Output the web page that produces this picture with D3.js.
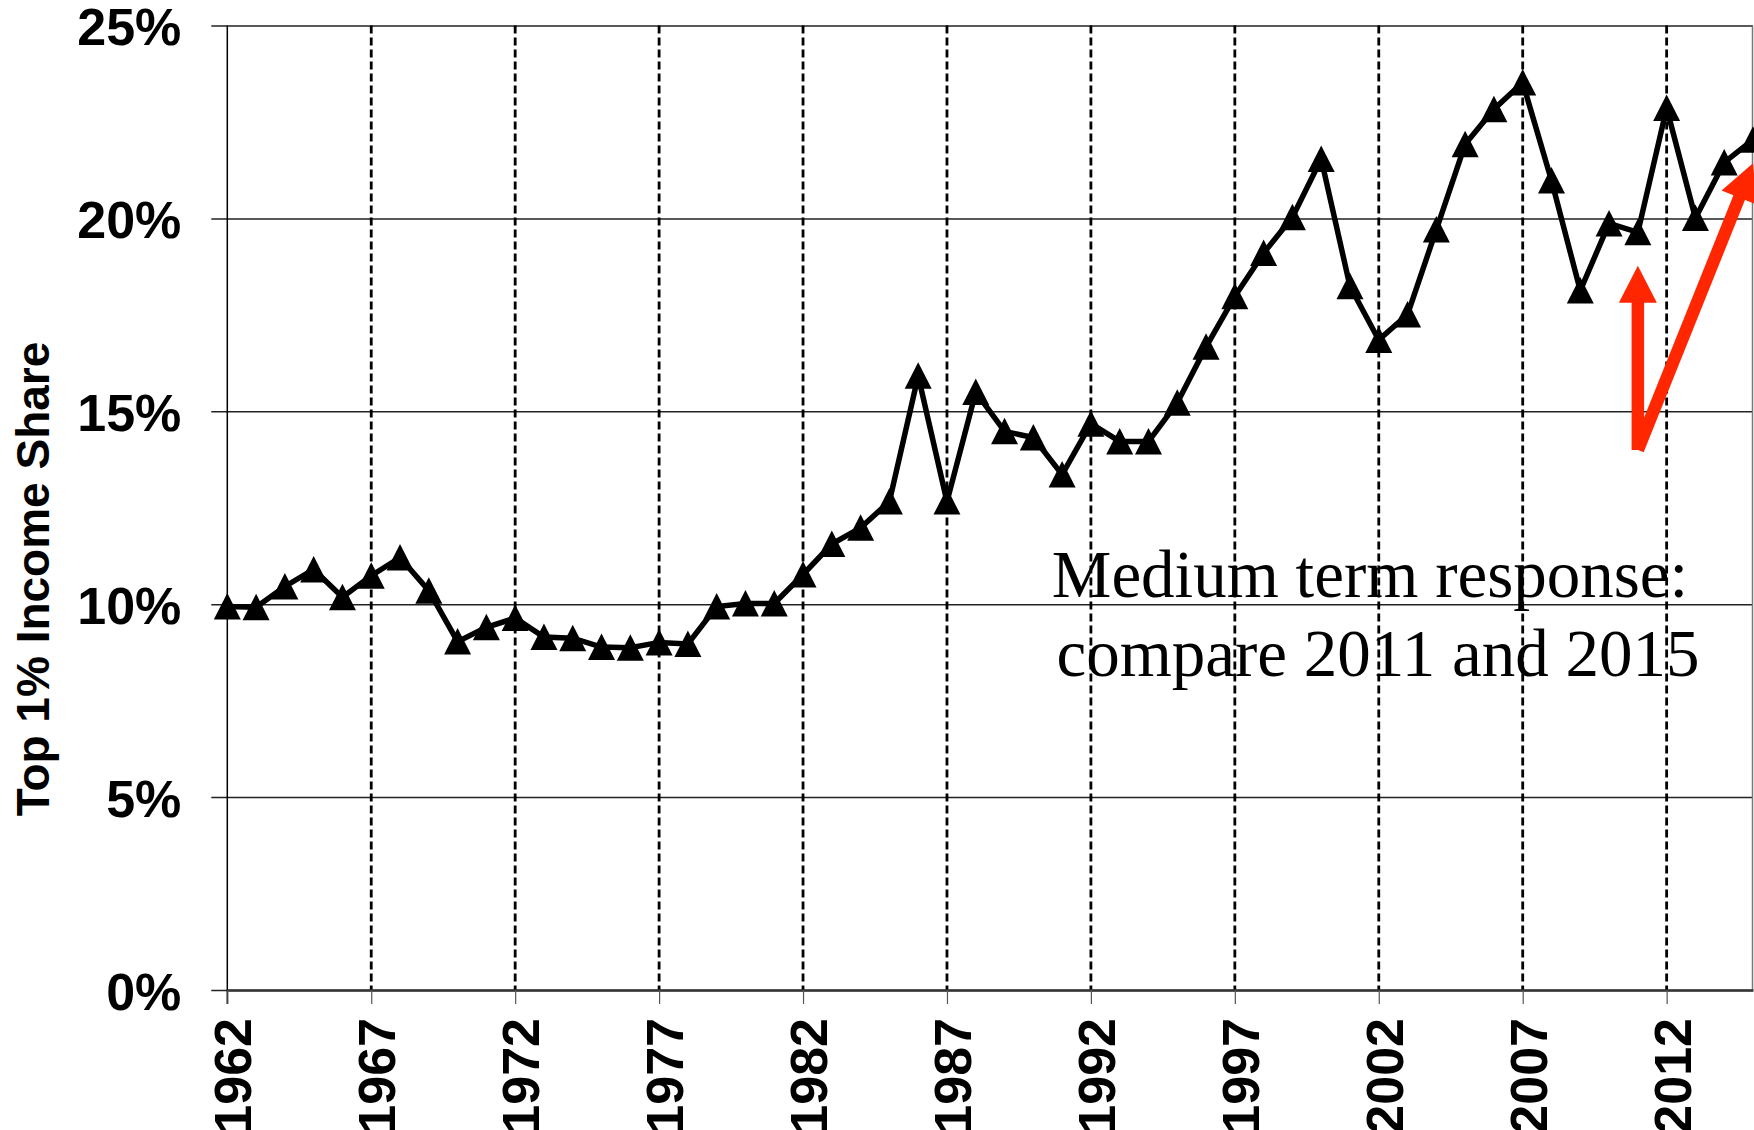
<!DOCTYPE html>
<html>
<head>
<meta charset="utf-8">
<script src="https://cdn.jsdelivr.net/npm/d3@7"></script>
<style>
  body { margin: 0; background: #fff; }
  svg { display: block; }
  .tick-label { font-family: "Liberation Sans", Arial, sans-serif; font-weight: bold; font-size: 52px; fill: #000; }
  .axis-title { font-family: "Liberation Sans", Arial, sans-serif; font-weight: bold; font-size: 46px; fill: #000; }
  .note { font-family: "Liberation Serif", "Times New Roman", serif; font-size: 67px; fill: #000; }
</style>
</head>
<body>
<div id="chart"></div>
<script>
// years on the x axis
const years = [
  1962, 1963, 1964, 1965, 1966, 1967, 1968, 1969, 1970, 1971,
  1972, 1973, 1974, 1975, 1976, 1977, 1978, 1979, 1980, 1981,
  1982, 1983, 1984, 1985, 1986, 1987, 1988, 1989, 1990, 1991,
  1992, 1993, 1994, 1995, 1996, 1997, 1998, 1999, 2000, 2001,
  2002, 2003, 2004, 2005, 2006, 2007, 2008, 2009, 2010, 2011,
  2012, 2013, 2014, 2015
];

// top 1% income share, in percent
const shares = [
  9.94, 9.92, 10.46, 10.90, 10.18, 10.74, 11.21, 10.35, 9.03, 9.40,
  9.64, 9.15, 9.12, 8.89, 8.87, 9.01, 8.97, 9.94, 10.02, 10.02,
  10.77, 11.56, 11.98, 12.66, 15.92, 12.66, 15.50, 14.48, 14.32, 13.36,
  14.68, 14.22, 14.22, 15.22, 16.67, 17.98, 19.10, 20.03, 21.54, 18.24,
  16.85, 17.51, 19.71, 21.92, 22.83, 23.52, 20.98, 18.13, 19.87, 19.64,
  22.86, 20.01, 21.45, 22.04
];

const yTicks = [0, 5, 10, 15, 20, 25];
const xTicks = [1962, 1967, 1972, 1977, 1982, 1987, 1992, 1997, 2002, 2007, 2012];

// red arrows: common base, then the two tips (year, share)
const arrowBase = [2011, 14.0];
const arrowTips = [[2011, 18.77], [2015, 21.43]];

const noteLines = ['Medium term response:', 'compare 2011 and 2015'];

const width = 1754;
const height = 1130;

const data = years.map((year, i) => ({ year, share: shares[i] }));

function drawChart() {
  const svg = d3.select('#chart')
    .append('svg')
    .attr('width', width)
    .attr('height', height);

  const plot = { left: 227.3, right: 1753, top: 25.5, bottom: 990 };

  const xScale = d3.scaleLinear().domain([1962, 2015]).range([plot.left, plot.right]);
  const yScale = d3.scaleLinear().domain([0, 25]).range([plot.bottom, plot.top]);

  // horizontal gridlines, running a bit left of the axis like tick marks
  svg.append('g')
    .attr('transform', `translate(${plot.left}, 0)`)
    .call(d3.axisLeft(yScale).tickValues(yTicks).tickFormat('').tickSize(16).tickSizeOuter(0))
    .call(g => g.select('.domain').remove())
    .call(g => g.selectAll('.tick line')
      .attr('x2', plot.right - plot.left)
      .attr('x1', -16)
      .attr('stroke', '#222')
      .attr('stroke-width', 1.5));

  // vertical dashed gridlines every 5 years
  svg.append('g')
    .selectAll('line')
    .data(xTicks.slice(1))
    .join('line')
    .attr('x1', d => xScale(d))
    .attr('x2', d => xScale(d))
    .attr('y1', plot.top)
    .attr('y2', plot.bottom)
    .attr('stroke', '#000')
    .attr('stroke-width', 2.8)
    .attr('stroke-dasharray', '8,4');

  // right border
  svg.append('line')
    .attr('x1', plot.right - 0.5).attr('x2', plot.right - 0.5)
    .attr('y1', plot.top).attr('y2', plot.bottom)
    .attr('stroke', '#777').attr('stroke-width', 1.5);

  // y axis labels
  const yAxis = svg.append('g')
    .attr('transform', `translate(${plot.left}, 0)`)
    .call(d3.axisLeft(yScale).tickValues(yTicks).tickSize(0).tickPadding(46).tickFormat(d => d + '%'));
  yAxis.select('.domain').remove();
  yAxis.selectAll('text')
    .attr('class', 'tick-label')
    .attr('dy', '0.37em')
    .attr('font-size', null)
    .attr('font-family', null);

  // left axis line
  svg.append('line')
    .attr('x1', plot.left).attr('x2', plot.left)
    .attr('y1', plot.top).attr('y2', plot.bottom + 14)
    .attr('stroke', '#000').attr('stroke-width', 1.5);

  // x axis with rotated year labels
  const xAxis = svg.append('g')
    .attr('transform', `translate(0, ${plot.bottom})`)
    .call(d3.axisBottom(xScale).tickValues(xTicks).tickSize(14).tickSizeOuter(0).tickFormat(d3.format('d')));
  xAxis.select('.domain')
    .attr('stroke', '#333')
    .attr('stroke-width', 2.5);
  xAxis.selectAll('.tick line')
    .attr('stroke', '#555')
    .attr('stroke-width', 1.2);
  xAxis.selectAll('text')
    .attr('class', 'tick-label')
    .attr('font-size', null)
    .attr('font-family', null)
    .attr('text-anchor', 'end')
    .attr('y', 0)
    .attr('dy', 0)
    .attr('transform', 'translate(23.5, 28) rotate(-90)');

  // y axis title
  svg.append('text')
    .attr('class', 'axis-title')
    .attr('text-anchor', 'middle')
    .attr('transform', 'translate(48.5, 579) rotate(-90)')
    .text('Top 1% Income Share');

  // the series line and its triangle markers
  const line = d3.line()
    .x(d => xScale(d.year))
    .y(d => yScale(d.share));

  svg.append('path')
    .datum(data)
    .attr('fill', 'none')
    .attr('stroke', '#000')
    .attr('stroke-width', 5.5)
    .attr('stroke-linejoin', 'miter')
    .attr('d', line);

  svg.append('g')
    .selectAll('path')
    .data(data)
    .join('path')
    .attr('d', 'M0,-13.5L13.5,13L-13.5,13Z')
    .attr('fill', '#000')
    .attr('transform', d => `translate(${xScale(d.year)}, ${yScale(d.share)})`);

  // annotation text
  const note = svg.append('text')
    .attr('class', 'note')
    .attr('text-anchor', 'middle');
  note.selectAll('tspan')
    .data(noteLines)
    .join('tspan')
    .attr('x', (d, i) => 1370 + i * 8)
    .attr('y', (d, i) => 597 + i * 79)
    .text(d => d);

  // red arrows
  const bx = xScale(arrowBase[0]);
  const by = yScale(arrowBase[1]);
  const headLen = 37;
  const headHalf = 19;
  const arrows = svg.append('g').attr('fill', '#ff2600').attr('stroke', 'none');

  arrowTips.forEach(([yr, val]) => {
    const tx = xScale(yr);
    const ty = yScale(val);
    const len = Math.hypot(tx - bx, ty - by);
    const ux = (tx - bx) / len;
    const uy = (ty - by) / len;
    const hx = tx - ux * headLen;
    const hy = ty - uy * headLen;

    arrows.append('line')
      .attr('x1', bx).attr('y1', by)
      .attr('x2', hx + ux * 2).attr('y2', hy + uy * 2)
      .attr('stroke', '#ff2600')
      .attr('stroke-width', 12.5);

    arrows.append('path')
      .attr('d', `M${tx},${ty}L${hx - uy * headHalf},${hy + ux * headHalf}L${hx + uy * headHalf},${hy - ux * headHalf}Z`);
  });
}

drawChart();
</script>
</body>
</html>
